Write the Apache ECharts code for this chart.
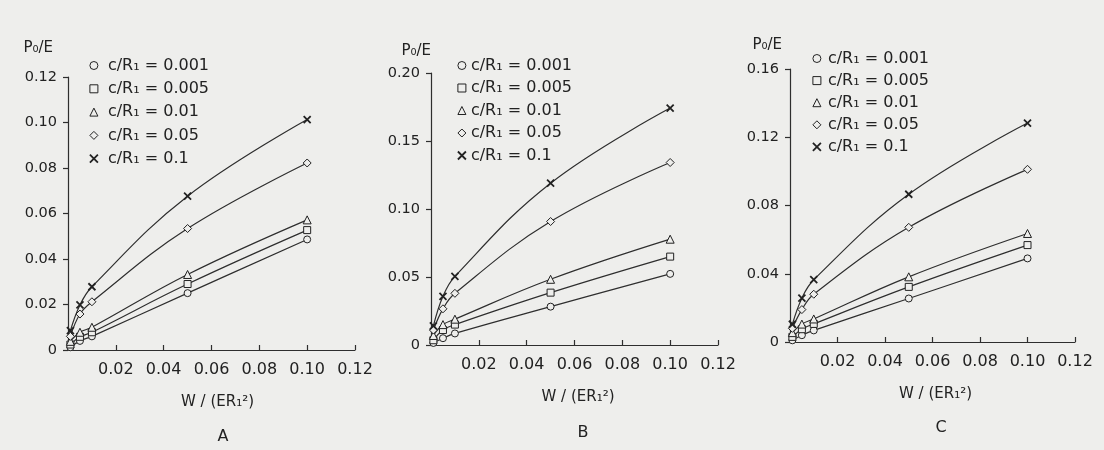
<!DOCTYPE html>
<html>
<head>
<meta charset="utf-8">
<script src="https://cdn.jsdelivr.net/npm/echarts@6/dist/echarts.min.js"></script>
<style>
html,body{margin:0;padding:0;background:#eeeeec;}
#chart{width:1104px;height:450px;}
</style>
</head>
<body>
<div id="chart"></div>
<script>
// Data
var W = [0.001, 0.005, 0.01, 0.05, 0.1];
var seriesNames = ['c/R\u2081 = 0.001', 'c/R\u2081 = 0.005', 'c/R\u2081 = 0.01', 'c/R\u2081 = 0.05', 'c/R\u2081 = 0.1'];
var xTicks = ['0.02', '0.04', '0.06', '0.08', '0.10', '0.12'];
var panelLabels = ['A', 'B', 'C'];

// Panel A
var A_c0001 = [0.0012, 0.0040, 0.0060, 0.0250, 0.0486];
var A_c0005 = [0.0024, 0.0058, 0.0078, 0.0290, 0.0527];
var A_c001  = [0.0038, 0.0078, 0.0100, 0.0332, 0.0572];
var A_c005  = [0.0060, 0.0158, 0.0212, 0.0534, 0.0822];
var A_c01   = [0.0085, 0.0198, 0.0278, 0.0676, 0.1013];
// Panel B
var B_c0001 = [0.0015, 0.0050, 0.0085, 0.0282, 0.0523];
var B_c0005 = [0.0035, 0.0110, 0.0150, 0.0385, 0.0650];
var B_c001  = [0.0070, 0.0150, 0.0190, 0.0483, 0.0778];
var B_c005  = [0.0110, 0.0266, 0.0380, 0.0908, 0.1342];
var B_c01   = [0.0140, 0.0358, 0.0505, 0.1190, 0.1742];
// Panel C
var C_c0001 = [0.0010, 0.0040, 0.0068, 0.0255, 0.0490];
var C_c0005 = [0.0030, 0.0075, 0.0106, 0.0323, 0.0568];
var C_c001  = [0.0055, 0.0105, 0.0135, 0.0382, 0.0636];
var C_c005  = [0.0080, 0.0190, 0.0280, 0.0672, 0.1012];
var C_c01   = [0.0104, 0.0257, 0.0365, 0.0866, 0.1283];

var panelData = [
  [A_c0001, A_c0005, A_c001, A_c005, A_c01],
  [B_c0001, B_c0005, B_c001, B_c005, B_c01],
  [C_c0001, C_c0005, C_c001, C_c005, C_c01]
];
var yMax = [0.12, 0.20, 0.16];
var yInterval = [0.02, 0.05, 0.04];

// Styling
var BG = '#eeeeec';
var INK = '#222222';
var LINE = '#2e2e2e';
var FONT = 'DejaVu Sans';
var CROSS = 'path://M0,0L10,10M10,0L0,10';
var symbols = ['circle', 'rect', 'triangle', 'diamond', CROSS];
var symSizes = [7, 7, 8, 8, 7];
var symBorder = [1, 1, 1, 1, 1.8];

var grids = [
  {left: 68, top: 77, width: 287, height: 273},
  {left: 431, top: 73, width: 287, height: 272},
  {left: 790, top: 69, width: 285, height: 273}
];
var nameShift = [12, 7, 6];
var titlePos = [{x: 218, y: 424}, {x: 578, y: 420}, {x: 936, y: 415}];
var legendPos = [
  {left: 89, top: 57, pad: 5, gap: 6.3},
  {left: 457, top: 57, pad: 0, gap: 5.5},
  {left: 812, top: 50, pad: 2, gap: 5.1}
];
var yNamePad = [15, 0, 8];
var yNameGap = [21, 14, 16];

var option = {
  backgroundColor: BG,
  animation: false,
  textStyle: {fontFamily: FONT, color: INK},
  grid: grids,
  title: panelLabels.map(function (t, i) {
    return {text: t, left: titlePos[i].x, top: titlePos[i].y, textAlign: 'center',
      textStyle: {fontFamily: FONT, fontSize: 16, fontWeight: 'normal', color: INK}};
  }),
  legend: legendPos.map(function (lp) {
    return {
      orient: 'vertical', left: lp.left, top: lp.top, padding: 0,
      itemWidth: 8, itemHeight: 8, itemGap: lp.gap,
      selectedMode: false,
      textStyle: {fontFamily: FONT, fontSize: 16, color: INK, lineHeight: 17, padding: [0, 0, 0, lp.pad]},
      data: seriesNames.map(function (n, k) {
        return {name: n, icon: symbols[k],
          itemStyle: {color: BG, borderColor: INK, borderWidth: symBorder[k]}};
      })
    };
  }),
  xAxis: grids.map(function (g, i) {
    return {
      type: 'value', gridIndex: i, min: 0, max: 0.12, interval: 0.02,
      name: 'W / (ER\u2081\u00B2)', nameLocation: 'middle', nameGap: 45,
      nameTextStyle: {fontFamily: FONT, fontSize: 15, color: INK, padding: [0, 0, 0, nameShift[i]]},
      axisLine: {lineStyle: {color: LINE, width: 1.2}},
      axisTick: {inside: true, length: 5, lineStyle: {color: LINE, width: 1.2}},
      splitLine: {show: false},
      axisLabel: {fontFamily: FONT, fontSize: 16, color: INK, margin: 12,
        formatter: function (v) { var idx = Math.round(v / 0.02) - 1; return idx >= 0 ? xTicks[idx] : ''; }}
    };
  }),
  yAxis: grids.map(function (g, i) {
    return {
      type: 'value', gridIndex: i, min: 0, max: yMax[i], interval: yInterval[i],
      name: 'P\u2080/E', nameLocation: 'end', nameGap: yNameGap[i],
      nameTextStyle: {fontFamily: FONT, fontSize: 15, color: INK, align: 'right', padding: [0, yNamePad[i], 0, 0]},
      axisLine: {show: true, lineStyle: {color: LINE, width: 1.2}},
      axisTick: {show: true, length: 5, lineStyle: {color: LINE, width: 1.2}},
      splitLine: {show: false},
      axisLabel: {fontFamily: FONT, fontSize: 14.5, color: INK, margin: 11,
        formatter: function (v) { return v === 0 ? '0' : v.toFixed(2); }}
    };
  }),
  series: []
};

for (var p = 0; p < 3; p++) {
  for (var k = 0; k < 5; k++) {
    var vals = panelData[p][k];
    option.series.push({
      type: 'line', name: seriesNames[k], xAxisIndex: p, yAxisIndex: p,
      data: W.map(function (w, i) { return [w, vals[i]]; }),
      smooth: 0.4,
      symbol: symbols[k], symbolSize: symSizes[k],
      lineStyle: {color: LINE, width: 1.2},
      itemStyle: {color: BG, borderColor: INK, borderWidth: symBorder[k]},
      z: 2
    });
  }
}

var chart = echarts.init(document.getElementById('chart'), null, {renderer: 'canvas'});
chart.setOption(option);
</script>
</body>
</html>
